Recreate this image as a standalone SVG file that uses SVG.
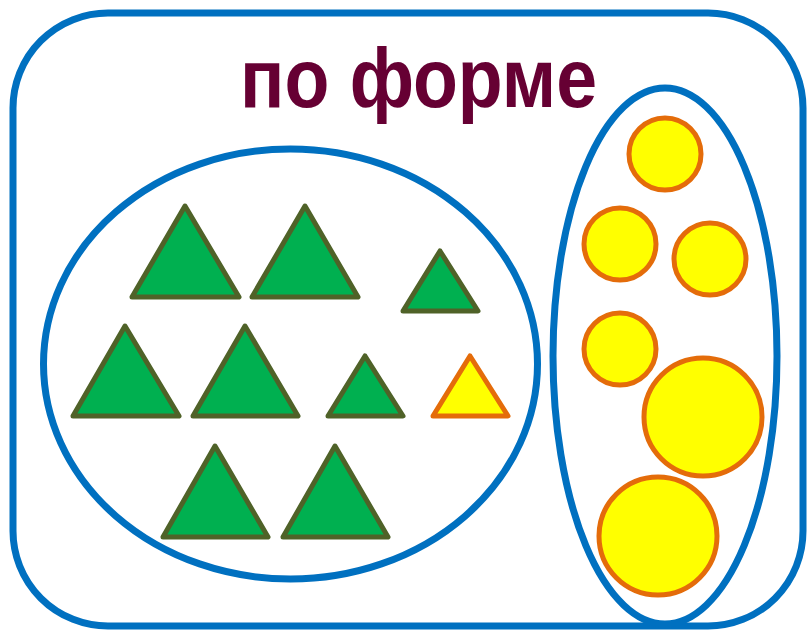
<svg xmlns="http://www.w3.org/2000/svg" width="811" height="631" viewBox="0 0 811 631">
<style>
.frame{fill:none;stroke:#0070C0;stroke-width:7}
.tri{fill:#00B050;stroke:#4F6228;stroke-width:5;stroke-linejoin:round}
.tri-y{fill:#FFFF00;stroke:#E46C0A;stroke-width:5;stroke-linejoin:round}
.circ{fill:#FFFF00;stroke:#E46C0A;stroke-width:5}
.title{font-family:"Liberation Sans",Arial,sans-serif;font-weight:bold;font-size:84px;fill:#660033}
</style>
<rect width="811" height="631" fill="#FFFFFF"/>
<g id="outer">
<rect class="frame" x="13" y="13" width="790" height="613" rx="95" ry="95"/>
</g>
<g id="title">
<text class="title" x="418.5" y="107" text-anchor="middle" textLength="357" lengthAdjust="spacingAndGlyphs">по форме</text>
</g>
<g id="set-triangles">
<ellipse class="frame" cx="290.5" cy="364" rx="247" ry="215"/>
<polygon class="tri" points="185,206 239,297 132,297"/>
<polygon class="tri" points="305,206 358,297 252,297"/>
<polygon class="tri" points="440,251 478,311 403,311"/>
<polygon class="tri" points="125,326 179,416 73,416"/>
<polygon class="tri" points="245,326 298,416 193,416"/>
<polygon class="tri" points="365,356 403,416 328,416"/>
<polygon class="tri-y" points="470,356 508,416 433,416"/>
<polygon class="tri" points="215,446 268,537 163,537"/>
<polygon class="tri" points="335,446 388,537 283,537"/>
</g>
<g id="set-circles">
<ellipse class="frame" cx="665" cy="356" rx="112" ry="268"/>
<circle class="circ" cx="665" cy="154" r="36"/>
<circle class="circ" cx="620" cy="244" r="36"/>
<circle class="circ" cx="710" cy="259" r="36"/>
<circle class="circ" cx="620" cy="349" r="36"/>
<circle class="circ" cx="703" cy="417" r="59"/>
<circle class="circ" cx="658" cy="536" r="59"/>
</g>
<g id="connectors"></g>
</svg>
